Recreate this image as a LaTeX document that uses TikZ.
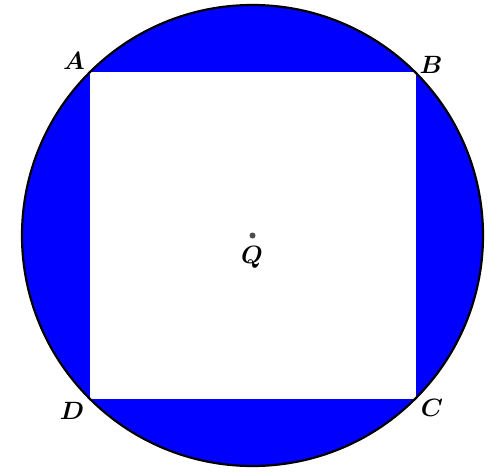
\documentclass[tikz,border=0pt]{standalone}
\usepackage{amsmath}
\usepackage{bm}
\usepackage{graphicx}
\newcommand{\biglbl}[1]{\scalebox{2.5}{$\bm{#1}$}}
\begin{document}
\begin{tikzpicture}[x=1pt,y=1pt,
  lbl/.style={inner sep=0pt}]
\useasboundingbox (0,0) rectangle (503,475);
\coordinate (Q) at (252.5,239.5);
\fill[blue] (Q) circle (230.5);
\coordinate (A) at (89.5,402.5);
\coordinate (B) at (415.5,402.5);
\coordinate (C) at (415.5,76.5);
\coordinate (D) at (89.5,76.5);
\fill[white] (A) -- (B) -- (C) -- (D) -- cycle;
\draw[line width=2.2pt] (Q) circle (230.5);
\fill[black!70] (Q) circle (3);
\node[lbl] (la) at (74,414) {\biglbl{A}};
\node[lbl] (lb) at (431,410) {\biglbl{B}};
\node[lbl] (lc) at (432,67) {\biglbl{C}};
\node[lbl] (ld) at (72,64) {\biglbl{D}};
\node[lbl] (lq) at (252,218) {\biglbl{Q}};
\end{tikzpicture}
\end{document}
